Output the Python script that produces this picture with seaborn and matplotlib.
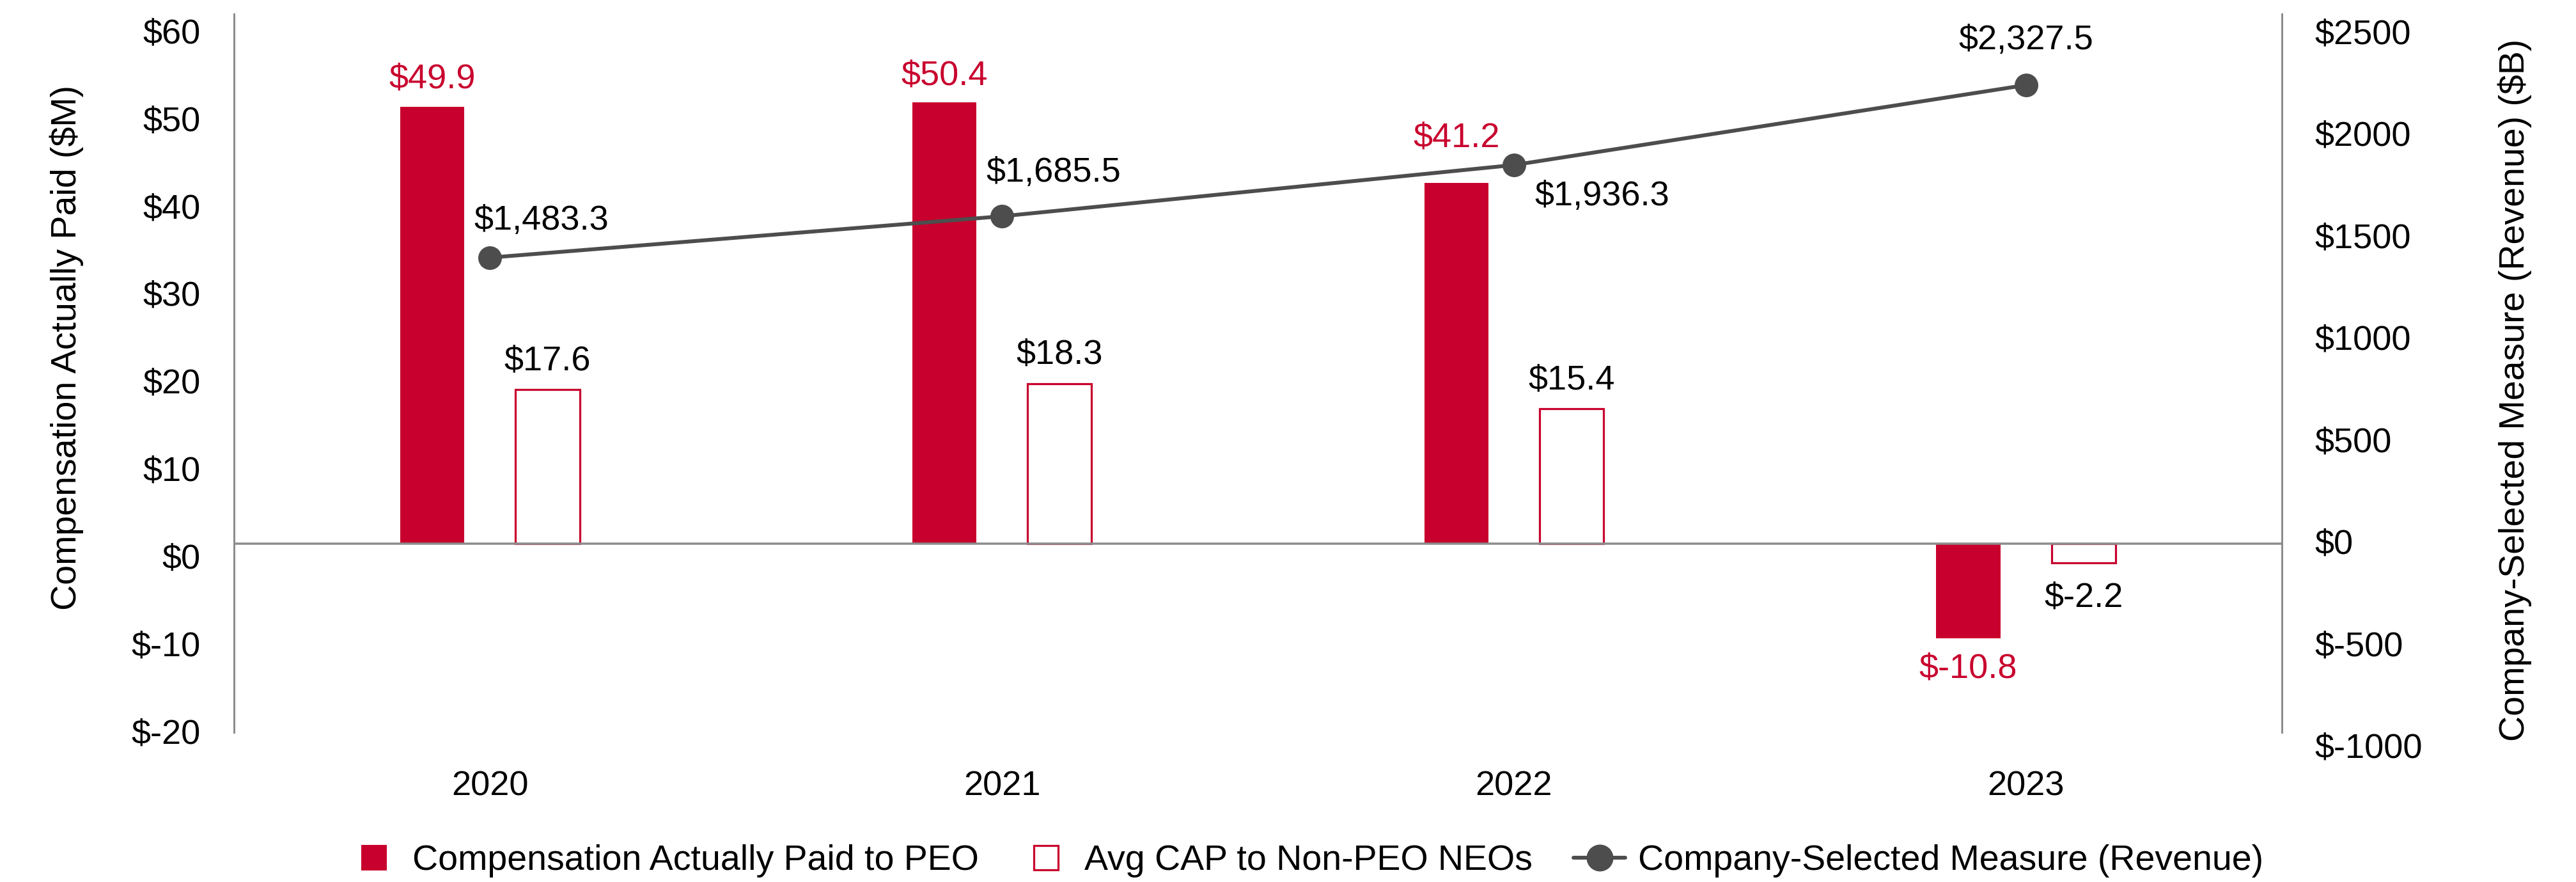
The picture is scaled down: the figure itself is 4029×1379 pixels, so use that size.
import numpy as np
import pandas as pd
import matplotlib
matplotlib.use("Agg")
import matplotlib.pyplot as plt
import matplotlib.transforms as mtransforms
from matplotlib.lines import Line2D
import seaborn as sns

# ---------------- data ----------------
years = ["2020", "2021", "2022", "2023"]
cap_peo = [49.9, 50.4, 41.2, -10.8]
cap_non_peo = [17.6, 18.3, 15.4, -2.2]
revenue = [1483.3, 1685.5, 1936.3, 2327.5]
series_names = ["Compensation Actually Paid to PEO",
                "Avg CAP to Non-PEO NEOs",
                "Company-Selected Measure (Revenue)"]
left_ticks = [-20, -10, 0, 10, 20, 30, 40, 50, 60]
right_ticks = [-1000, -500, 0, 500, 1000, 1500, 2000, 2500]
left_label = "Compensation Actually Paid ($M)"
right_label = "Company-Selected Measure (Revenue) ($B)"

# ---------------- style ----------------
RED = "#C8002D"
LINE_GREY = "#4D4D4D"
AXIS_GREY = "#8C8C8C"
DPI = 100
PX = 72.0 / DPI  # points per pixel

sns.set_theme(style="white")
plt.rcParams["font.family"] = ["Liberation Sans", "DejaVu Sans"]
plt.rcParams["figure.facecolor"] = "white"

fig = plt.figure(figsize=(40.29, 13.79), dpi=DPI)
W, H = 4029, 1379
ax_l, ax_r, ax_t, ax_b = 366, 3569, 22, 1145
ax = fig.add_axes([ax_l / W, 1 - ax_b / H, (ax_r - ax_l) / W, (ax_b - ax_t) / H])

df = pd.DataFrame({
    "Year": years * 2,
    "Value": cap_peo + cap_non_peo,
    "Series": [series_names[0]] * len(years) + [series_names[1]] * len(years),
})

sns.barplot(data=df, x="Year", y="Value", hue="Series", order=years,
            hue_order=series_names[:2], palette=[RED, RED], width=0.45,
            gap=0.444, saturation=1, legend=False, errorbar=None, ax=ax)

for p in ax.containers[0]:
    p.set_facecolor(RED)
    p.set_edgecolor("none")
    p.set_linewidth(0)
for p in ax.containers[1]:
    p.set_facecolor("white")
    p.set_edgecolor(RED)
    p.set_linewidth(3.2 * PX)

ax.axhline(0, color=AXIS_GREY, lw=3.5 * PX, zorder=3)

# line on secondary (data) axis
ax2 = ax.twinx()
sns.lineplot(x=np.arange(len(years)), y=revenue, ax=ax2, color=LINE_GREY,
             linewidth=6 * PX, marker="o", markersize=37 * PX,
             markeredgewidth=0, legend=False)

# spines
for s in ["top", "bottom", "right"]:
    ax.spines[s].set_visible(False)
ax.spines["left"].set_color(AXIS_GREY)
ax.spines["left"].set_linewidth(3 * PX)
for s in ["top", "bottom", "left"]:
    ax2.spines[s].set_visible(False)
ax2.spines["right"].set_color(AXIS_GREY)
ax2.spines["right"].set_linewidth(3 * PX)

# ticks
FS = 39
ax.set_xlabel("")
ax.tick_params(axis="x", length=0, pad=43, labelsize=FS, labelcolor="black")
ax.set_yticks(left_ticks)
ax.set_yticklabels([f"${t}" for t in left_ticks])
ax.tick_params(axis="y", length=0, pad=52 * PX, labelsize=FS, labelcolor="black")
ax2.tick_params(axis="y", which="both", right=False, labelright=False,
                left=False, labelleft=False)

# limits (after ticks so nothing expands them)
ax.set_ylim(-21.55, 60.5)
ax2.set_ylim(-840, 2675)
ax.set_xlim(-0.5, len(years) - 0.5)

shift_l = mtransforms.ScaledTranslation(0, -19 / DPI, fig.dpi_scale_trans)
for lab in ax.get_yticklabels():
    lab.set_transform(lab.get_transform() + shift_l)

# right-hand tick-label scale (slightly taller box so the -1000 label fits)
ax3_b = 1200
ax3 = fig.add_axes([ax_l / W, 1 - ax3_b / H, (ax_r - ax_l) / W, (ax3_b - ax_t) / H])
ax3.patch.set_visible(False)
for s in ax3.spines.values():
    s.set_visible(False)
ax3.xaxis.set_visible(False)
ax3.yaxis.tick_right()
ax3.set_yticks(right_ticks)
ax3.set_yticklabels([f"${t}" for t in right_ticks])
ax3.tick_params(axis="y", length=0, pad=51 * PX, labelsize=FS, labelcolor="black",
                left=False, labelleft=False, right=False, labelright=True)
zero_px, px_per_unit = 846.4, 0.3191
ax3.set_ylim(-(ax3_b - zero_px) / px_per_unit, (zero_px - ax_t) / px_per_unit)

# axis labels
ax.set_ylabel(left_label, fontsize=40, color="black")
ax.yaxis.label.set_va("center")
ax.yaxis.set_label_coords((104 - ax_l) / (ax_r - ax_l), 1 - (543 - ax_t) / (ax_b - ax_t))
ax2.set_ylabel(right_label, fontsize=40, rotation=90, color="black")
ax2.yaxis.label.set_va("center")
ax2.yaxis.set_label_coords((3933 - ax_l) / (ax_r - ax_l), 1 - (610 - ax_t) / (ax_b - ax_t))

# data labels (offsets in pixels)
peo_offsets = [(0, 44), (0, 42), (0, 71), (0, -48)]
non_offsets = [(0, 45), (0, 45), (0, 45), (0, -54)]
for bar, val, (dx, dy) in zip(ax.containers[0], cap_peo, peo_offsets):
    x = bar.get_x() + bar.get_width() / 2
    ax.annotate(f"${val:.1f}", xy=(x, val), xytext=(dx * PX, dy * PX),
                textcoords="offset points", ha="center", va="center",
                color=RED, fontsize=FS)
for bar, val, (dx, dy) in zip(ax.containers[1], cap_non_peo, non_offsets):
    x = bar.get_x() + bar.get_width() / 2
    ax.annotate(f"${val:.1f}", xy=(x, val), xytext=(dx * PX, dy * PX),
                textcoords="offset points", ha="center", va="center",
                color="black", fontsize=FS)

line_offsets = [(-25, 58, "left"), (-25, 68, "left"), (33, -49, "left"), (0, 70, "center")]
for i, (val, (dx, dy, ha)) in enumerate(zip(revenue, line_offsets)):
    ax2.annotate(f"${val:,.1f}", xy=(i, val), xytext=(dx * PX, dy * PX),
                 textcoords="offset points", ha=ha, va="center",
                 color="black", fontsize=FS)

# legend
handles = [
    Line2D([], [], marker="s", linestyle="None", markersize=40 * PX,
           markerfacecolor=RED, markeredgecolor=RED, markeredgewidth=0),
    Line2D([], [], marker="s", linestyle="None", markersize=38 * PX,
           markerfacecolor="white", markeredgecolor=RED, markeredgewidth=3.2 * PX),
    Line2D([], [], color=LINE_GREY, linewidth=6 * PX, marker="o",
           markersize=42 * PX, markeredgewidth=0),
]
fig.legend(handles, series_names, loc="center",
           bbox_to_anchor=(2042 / W, 1 - 1346 / H), ncol=3, frameon=False,
           fontsize=40, handlelength=1.47, handletextpad=0.35,
           columnspacing=1.15, labelcolor="black")

fig.savefig("out.png", dpi=DPI, facecolor="white")
